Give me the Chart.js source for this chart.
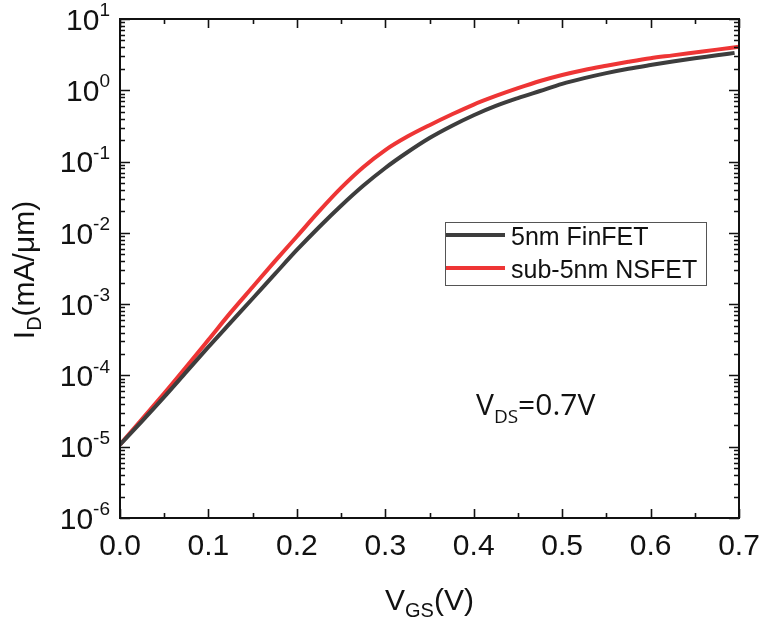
<!DOCTYPE html>
<html>
<head>
<meta charset="utf-8">
<script src="https://cdn.jsdelivr.net/npm/chart.js@4.4.1/dist/chart.umd.min.js"></script>
<style>
html,body{margin:0;padding:0;background:#fff;}
</style>
</head>
<body>
<canvas id="ivChart" width="762" height="620"></canvas>
<script>
/* ===== transfer curves, ID vs VGS at VDS = 0.7 V ===== */
const vgsNs=[0,0.025,0.05,0.075,0.1,0.125,0.15,0.175,0.2,0.225,0.25,0.275,0.3,0.325,0.35,0.375,0.4,0.425,0.45,0.475,0.5,0.525,0.55,0.575,0.6,0.625,0.65,0.675,0.7];
const vgsFin=[0,0.025,0.05,0.075,0.1,0.125,0.15,0.175,0.2,0.225,0.25,0.275,0.3,0.325,0.35,0.375,0.4,0.425,0.45,0.475,0.5,0.525,0.55,0.575,0.6,0.625,0.65,0.675,0.695];

// mA/um
const idNs=[1.07e-5,2.45e-5,5.6e-5,1.32e-4,3.16e-4,7.6e-4,1.74e-3,3.98e-3,8.9e-3,0.02,0.0427,0.0832,0.145,0.224,0.324,0.457,0.631,0.832,1.07,1.35,1.64,1.93,2.21,2.51,2.82,3.09,3.39,3.72,4.07];
const idFin=[1.07e-5,2.29e-5,5.0e-5,1.12e-4,2.51e-4,5.5e-4,1.2e-3,2.63e-3,5.75e-3,0.012,0.024,0.0457,0.0813,0.135,0.214,0.316,0.447,0.603,0.776,0.977,1.23,1.48,1.74,2.0,2.26,2.54,2.82,3.09,3.35];

const seriesNames=['5nm FinFET','sub-5nm NSFET'];
const seriesColors=['#3d3d3d','#ee3535'];

const xMajor=[0,0.1,0.2,0.3,0.4,0.5,0.6,0.7];
const xMinor=[0.05,0.15,0.25,0.35,0.45,0.55,0.65];
const yDecades=[-6,-5,-4,-3,-2,-1,0,1];

const FONT='"Liberation Sans", Arial, sans-serif';

function pts(xs,ys){return xs.map((v,i)=>({x:v,y:ys[i]}));}

/* text with a raised or lowered small part */
function drawParts(ctx,parts,x,y,align){
let w=0;
parts.forEach(p=>{ctx.font=p.size+'px '+(p.family||FONT);p.w=ctx.measureText(p.t).width;w+=p.w;});
let cx=align==='center'?x-w/2:(align==='right'?x-w:x);
ctx.textAlign='left';
parts.forEach(p=>{
ctx.font=p.size+'px '+(p.family||FONT);
ctx.fillText(p.t,cx,y+(p.dy||0));
cx+=p.w;
});
}

const axesPlugin={
id:'axesPlugin',
afterDatasetsDraw(chart){
const {ctx,chartArea:a,scales:{x,y}}=chart;
ctx.save();
ctx.strokeStyle='#111';
ctx.fillStyle='#111';

// ticks, all pointing into the plot
ctx.lineWidth=1.6;
ctx.beginPath();
xMajor.forEach(v=>{
let px=Math.round(x.getPixelForValue(v))+0.5;
ctx.moveTo(px,a.bottom);ctx.lineTo(px,a.bottom-9);
ctx.moveTo(px,a.top);ctx.lineTo(px,a.top+9);
});
xMinor.forEach(v=>{
let px=Math.round(x.getPixelForValue(v))+0.5;
ctx.moveTo(px,a.bottom);ctx.lineTo(px,a.bottom-5);
ctx.moveTo(px,a.top);ctx.lineTo(px,a.top+5);
});
yDecades.forEach(d=>{
let py=Math.round(y.getPixelForValue(Math.pow(10,d)))+0.5;
ctx.moveTo(a.left,py);ctx.lineTo(a.left+10,py);
ctx.moveTo(a.right,py);ctx.lineTo(a.right-10,py);
if(d<1){
for(let m=2;m<=9;m++){
let pm=Math.round(y.getPixelForValue(m*Math.pow(10,d)))+0.5;
ctx.moveTo(a.left,pm);ctx.lineTo(a.left+5,pm);
ctx.moveTo(a.right,pm);ctx.lineTo(a.right-5,pm);
}
}
});
ctx.stroke();

// frame
ctx.lineWidth=2;
ctx.strokeRect(a.left,a.top,a.right-a.left,a.bottom-a.top);

// x tick labels
ctx.font='30px '+FONT;
ctx.textAlign='center';
ctx.textBaseline='alphabetic';
xMajor.forEach(v=>{
ctx.fillText(v.toFixed(1),x.getPixelForValue(v),555);
});

// y tick labels 10^n
yDecades.forEach(d=>{
let py=y.getPixelForValue(Math.pow(10,d));
drawParts(ctx,[{t:'10',size:30},{t:String(d),size:19,dy:-13.5}],110,py+10.7,'right');
});

// axis titles
drawParts(ctx,[{t:'V',size:30},{t:'GS',size:20,dy:7},{t:'(V)',size:30}],(a.left+a.right)/2,610,'center');
ctx.save();
ctx.translate(34,270);
ctx.rotate(-Math.PI/2);
drawParts(ctx,[{t:'I',size:30},{t:'D',size:20,dy:7},{t:'(mA/\u03bcm)',size:30}],0,0,'center');
ctx.restore();

// bias condition
drawParts(ctx,[{t:'V',size:30,family:'"Open Sans", sans-serif'},{t:'DS',size:19,dy:8,family:'"Open Sans", sans-serif'},{t:'=0.7V',size:30,family:'"Open Sans", sans-serif'}],476,415,'left');

// legend
ctx.lineWidth=1;
ctx.strokeStyle='#555';
ctx.strokeRect(445.5,222.5,261,63);
const rows=[235,268];
chart.data.datasets.forEach((ds,i)=>{
ctx.strokeStyle=ds.borderColor;
ctx.lineWidth=4;
ctx.beginPath();
ctx.moveTo(446,rows[i]);ctx.lineTo(505,rows[i]);
ctx.stroke();
ctx.fillStyle='#111';
ctx.font='25px '+FONT;
ctx.textAlign='left';
ctx.fillText(ds.label,511,rows[i]+9.5);
});
ctx.restore();
}
};

new Chart(document.getElementById('ivChart'),{
type:'scatter',
data:{
datasets:[
{label:seriesNames[0],data:pts(vgsFin,idFin),borderColor:seriesColors[0],backgroundColor:seriesColors[0],showLine:true,borderWidth:4,pointRadius:0,cubicInterpolationMode:'monotone'},
{label:seriesNames[1],data:pts(vgsNs,idNs),borderColor:seriesColors[1],backgroundColor:seriesColors[1],showLine:true,borderWidth:4,pointRadius:0,cubicInterpolationMode:'monotone'}
]
},
options:{
responsive:false,
animation:false,
devicePixelRatio:1,
layout:{padding:{top:19,right:23,left:0,bottom:0}},
plugins:{legend:{display:false},tooltip:{enabled:false}},
scales:{
x:{
type:'linear',min:0,max:0.7,
grid:{display:false},border:{display:false},
ticks:{display:false},
afterFit(s){s.height=102;}
},
y:{
type:'logarithmic',min:1e-6,max:10,
grid:{display:false},border:{display:false},
ticks:{display:false},
afterFit(s){s.width=120;}
}
}
},
plugins:[axesPlugin]
});
</script>
</body>
</html>
